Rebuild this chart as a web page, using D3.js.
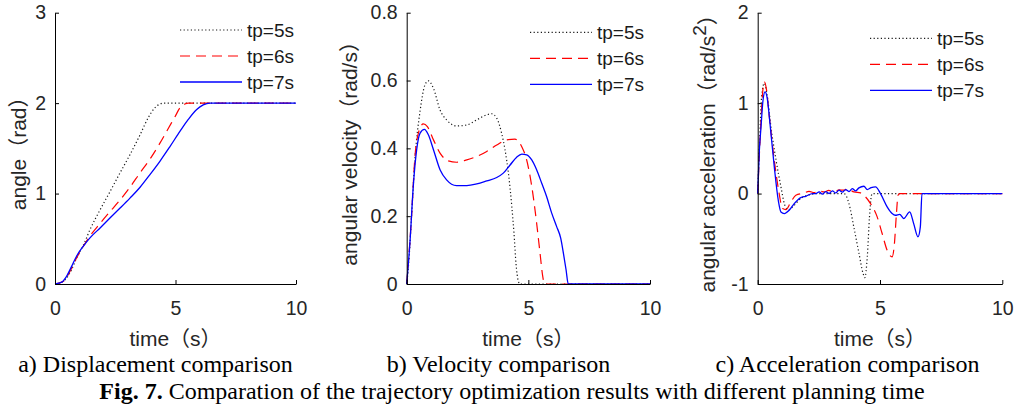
<!DOCTYPE html>
<html><head><meta charset="utf-8">
<script src="https://cdn.jsdelivr.net/npm/d3@7"></script>
<style>
html,body{margin:0;padding:0;background:#fff;}
svg{display:block;}
</style></head>
<body>
<svg id="chart" width="1023" height="407"></svg>
<script>
// ---------- data ----------
const legendLabels = ["tp=5s", "tp=6s", "tp=7s"];
const xTicks = [0, 5, 10];
const dispTicks = [0, 1, 2, 3];
const velTicks = [0, 0.2, 0.4, 0.6, 0.8];
const accTicks = [-1, 0, 1, 2];
const xLabel = "time（s）";
const yLabels = ["angle（rad）", "angular velocity（rad/s）", "angular acceleration（rad/s"];
const captions = ["a) Displacement comparison", "b) Velocity comparison", "c) Acceleration comparison"];
const figTitleBold = "Fig. 7.";
const figTitle = " Comparation of the trajectory optimization results with different planning time";

// displacement (rad) [time, value]
const disp5 = [[0,0],[0.28,0.02],[0.48,0.066],[0.69,0.16],[0.9,0.29],[1.18,0.43],[1.45,0.6],[1.87,0.82],[2.28,1.02],[2.7,1.23],[3.11,1.43],[3.53,1.65],[3.87,1.84],[4.15,1.95],[4.36,1.99],[4.5,2.0],[10,2.0]];
const disp6 = [[0,0],[0.35,0.03],[0.62,0.14],[0.9,0.29],[1.18,0.42],[1.45,0.53],[1.87,0.67],[2.28,0.8],[2.7,0.93],[3.11,1.07],[3.53,1.23],[3.94,1.38],[4.36,1.56],[4.7,1.72],[4.98,1.85],[5.19,1.95],[5.39,1.99],[5.53,2.0],[10,2.0]];
const disp7 = [[0,0],[0.28,0.02],[0.48,0.085],[0.69,0.195],[0.9,0.31],[1.18,0.42],[1.45,0.51],[1.87,0.62],[2.28,0.73],[2.7,0.84],[3.11,0.95],[3.53,1.07],[3.94,1.21],[4.36,1.36],[4.77,1.52],[5.19,1.69],[5.53,1.82],[5.88,1.93],[6.15,1.98],[6.43,2.0],[10,2.0]];

// velocity (rad/s)
const vel5 = [[0,0],[0.07,0.05],[0.2,0.2],[0.34,0.37],[0.55,0.51],[0.75,0.587],[0.89,0.599],[1.1,0.577],[1.37,0.513],[1.64,0.484],[2.05,0.466],[2.47,0.469],[2.88,0.484],[3.29,0.499],[3.49,0.502],[3.7,0.489],[3.9,0.445],[4.04,0.396],[4.18,0.327],[4.32,0.229],[4.41,0.15],[4.49,0.062],[4.59,0.008],[4.66,0],[10,0]];
const vel6 = [[0,0],[0.2,0.2],[0.34,0.376],[0.48,0.445],[0.68,0.472],[0.85,0.464],[1.1,0.425],[1.37,0.386],[1.71,0.363],[2.05,0.359],[2.47,0.366],[2.88,0.376],[3.29,0.391],[3.7,0.41],[4.11,0.425],[4.45,0.427],[4.73,0.405],[4.93,0.366],[5.14,0.288],[5.34,0.18],[5.48,0.091],[5.59,0.023],[5.66,0],[10,0]];
const vel7 = [[0,0],[0.14,0.13],[0.27,0.288],[0.41,0.396],[0.55,0.445],[0.73,0.456],[0.89,0.44],[1.1,0.396],[1.37,0.337],[1.64,0.307],[2.05,0.29],[2.47,0.29],[2.88,0.295],[3.29,0.304],[3.7,0.314],[3.97,0.327],[4.25,0.351],[4.52,0.374],[4.73,0.383],[4.93,0.381],[5.14,0.366],[5.34,0.337],[5.55,0.297],[5.75,0.258],[5.96,0.209],[6.16,0.17],[6.33,0.135],[6.44,0.091],[6.55,0.042],[6.64,0],[10,0]];

// acceleration (rad/s^2)
const acc5 = [[0,0],[0.08,0.59],[0.16,1.07],[0.27,1.22],[0.38,1.1],[0.54,0.74],[0.75,0.37],[0.95,0.074],[1.11,-0.13],[1.25,-0.18],[1.49,-0.13],[1.76,-0.055],[2.04,-0.018],[2.44,0],[3.53,0],[3.73,-0.11],[3.93,-0.37],[4.14,-0.66],[4.31,-0.885],[4.38,-0.93],[4.48,-0.7],[4.57,-0.26],[4.65,-0.02],[4.69,0],[10,0]];
const acc6 = [[0,0],[0.109,0.663],[0.204,1.124],[0.271,1.235],[0.353,1.161],[0.475,0.848],[0.678,0.369],[0.855,0.037],[1.018,-0.166],[1.153,-0.177],[1.357,-0.092],[1.56,-0.018],[1.9,0.007],[2.1,0.025],[2.307,0.011],[2.5,0.03],[2.714,0.018],[2.9,0.035],[3.121,0.018],[3.33,0.04],[3.528,0.037],[3.664,0.055],[3.935,0.018],[4.206,0.007],[4.41,-0.037],[4.613,-0.111],[4.885,-0.258],[5.088,-0.442],[5.292,-0.627],[5.495,-0.7],[5.59,-0.553],[5.672,-0.221],[5.739,-0.018],[5.807,0],[10,0]];
const acc7 = [[0,0],[0.068,0.479],[0.136,0.737],[0.217,1.032],[0.299,1.124],[0.38,1.069],[0.516,0.737],[0.678,0.295],[0.841,-0.074],[0.95,-0.203],[1.085,-0.221],[1.289,-0.184],[1.493,-0.111],[1.764,-0.044],[1.967,-0.03],[2.239,0],[2.374,0],[2.51,0.018],[2.646,-0.007],[2.782,0.022],[2.917,0],[3.053,0.03],[3.189,0.007],[3.324,0.037],[3.46,0.015],[3.596,0.044],[3.731,0.022],[3.867,0.055],[4.003,0.03],[4.138,0.063],[4.342,0.081],[4.478,0.044],[4.64,0.066],[4.817,0.074],[5.02,0],[5.292,-0.147],[5.495,-0.221],[5.631,-0.24],[5.807,-0.229],[5.97,-0.276],[6.214,-0.203],[6.377,-0.332],[6.553,-0.479],[6.649,-0.369],[6.716,0],[10,0]];

// ---------- styles ----------
const seriesStyle = [
  {color: "#1a1a1a", dash: "1.2,2.4", width: 1.2},
  {color: "#ff0000", dash: "10,6", width: 1.2},
  {color: "#0000ff", dash: null, width: 1.3}
];
const sansFont = "'Liberation Sans', Arial, 'Noto Sans CJK SC', sans-serif";
const serifFont = "'Liberation Serif', 'Times New Roman', serif";
const intFmt = d => String(d);

const svg = d3.select("#chart");

const panels = [
  {x0: 55, x1: 296, ydom: [0, 3], yticks: dispTicks, fmt: intFmt, series: [disp5, disp6, disp7],
   ylab: yLabels[0], ylabX: 26, legX: 180, legY: 30, cap: captions[0], capX: 155.5},
  {x0: 406.7, x1: 650, ydom: [0, 0.8], yticks: velTicks, fmt: d => d === 0 ? "0" : d3.format(".1f")(d), series: [vel5, vel6, vel7],
   ylab: yLabels[1], ylabX: 357, legX: 530, legY: 32.3, cap: captions[1], capX: 498.5},
  {x0: 757.7, x1: 1002.3, ydom: [-1, 2], yticks: accTicks, fmt: intFmt, series: [acc5, acc6, acc7],
   ylab: yLabels[2], ylabX: 715, legX: 870, legY: 38.3, cap: captions[2], capX: 847.5, sup: true}
];

const yTop = 12.7, yBot = 284;

panels.forEach(p => {
  const x = d3.scaleLinear().domain([0, 10]).range([p.x0, p.x1]);
  const y = d3.scaleLinear().domain(p.ydom).range([yBot, yTop]);
  const g = svg.append("g");

  // lines
  const line = d3.line().x(d => x(d[0])).y(d => y(d[1])).curve(d3.curveMonotoneX);
  p.series.forEach((s, i) => {
    const st = seriesStyle[i];
    g.append("path").datum(s).attr("d", line)
      .attr("fill", "none").attr("stroke", st.color)
      .attr("stroke-width", st.width)
      .attr("stroke-dasharray", st.dash);
  });

  // axes
  const xa = g.append("g").attr("transform", `translate(0,${yBot})`)
    .call(d3.axisBottom(x).tickValues(xTicks).tickSizeInner(-4).tickSizeOuter(0).tickPadding(17).tickFormat(intFmt));
  const ya = g.append("g").attr("transform", `translate(${p.x0},0)`)
    .call(d3.axisLeft(y).tickValues(p.yticks).tickSizeInner(-4).tickSizeOuter(0).tickPadding(9).tickFormat(p.fmt));
  [xa, ya].forEach(a => {
    a.select(".domain").attr("stroke", "#000").attr("stroke-width", 1);
    a.selectAll(".tick line").attr("stroke", "#000");
    a.selectAll("text").attr("font-family", sansFont).attr("font-size", 19.5).attr("fill", "#262626");
  });

  // x label
  g.append("text").attr("x", (p.x0 + p.x1) / 2).attr("y", 346)
    .attr("text-anchor", "middle").attr("font-family", sansFont).attr("font-size", 21).attr("fill", "#262626")
    .text(xLabel);

  // y label
  const yl = g.append("text")
    .attr("transform", `translate(${p.ylabX},${(yTop + yBot) / 2}) rotate(-90)`)
    .attr("text-anchor", "middle").attr("font-family", sansFont).attr("font-size", 21).attr("fill", "#262626");
  if (p.sup) {
    yl.append("tspan").text(p.ylab);
    yl.append("tspan").attr("dy", -9).attr("font-size", 19).text("2");
    yl.append("tspan").attr("dy", 9).text("）");
  } else {
    yl.text(p.ylab);
  }

  // legend
  legendLabels.forEach((lab, i) => {
    const ly = p.legY + i * 26;
    const st = seriesStyle[i];
    g.append("line").attr("x1", p.legX).attr("x2", p.legX + 62).attr("y1", ly).attr("y2", ly)
      .attr("stroke", st.color).attr("stroke-width", st.width).attr("stroke-dasharray", st.dash);
    g.append("text").attr("x", p.legX + 67).attr("y", ly + 6.5)
      .attr("font-family", sansFont).attr("font-size", 19).attr("fill", "#1a1a1a").text(lab);
  });

  // caption
  g.append("text").attr("x", p.capX).attr("y", 372).attr("text-anchor", "middle")
    .attr("font-family", serifFont).attr("font-size", 24).attr("fill", "#000").text(p.cap);
});

const ft = svg.append("text").attr("x", 512).attr("y", 399).attr("text-anchor", "middle")
  .attr("font-family", serifFont).attr("font-size", 24).attr("fill", "#000");
ft.append("tspan").attr("font-weight", "bold").text(figTitleBold);
ft.append("tspan").text(figTitle);
</script>
</body></html>
